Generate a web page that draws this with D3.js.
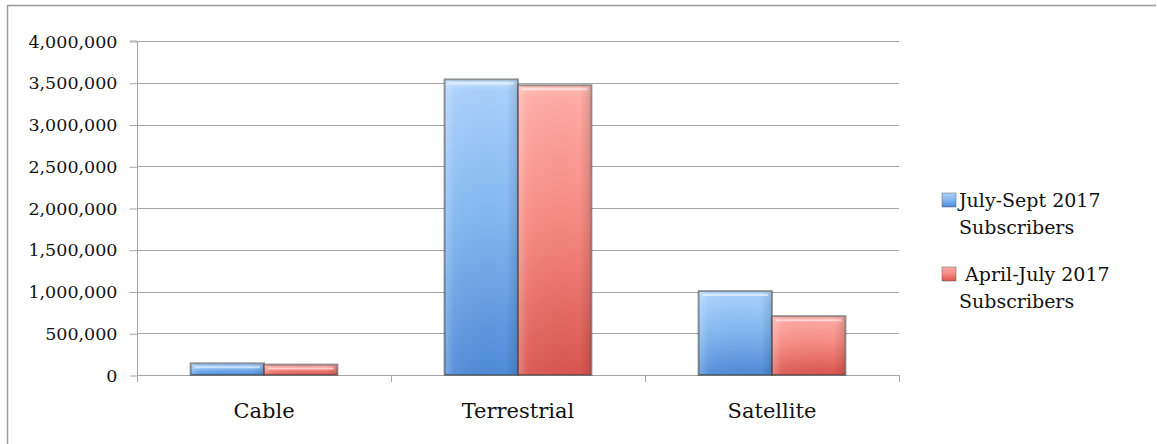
<!DOCTYPE html>
<html>
<head>
<meta charset="utf-8">
<script src="https://cdn.jsdelivr.net/npm/d3@7"></script>
<style>
  html, body { margin: 0; padding: 0; background: #fff; }
  svg { display: block; }
  text { font-family: "DejaVu Serif", serif; fill: #111; }
</style>
</head>
<body>
<svg id="chart" width="1157" height="444"></svg>
<script>
// Subscribers by platform, two survey periods
const categories = ["Cable", "Terrestrial", "Satellite"];
const seriesNames = ["July-Sept 2017 Subscribers", "April-July 2017 Subscribers"];
const julySept = [140000, 3540000, 1005000];
const aprilJuly = [125000, 3470000, 705000];
const yTicks = [0, 500000, 1000000, 1500000, 2000000, 2500000, 3000000, 3500000, 4000000];

const svg = d3.select("#chart");
const W = 1157, H = 444;
const plot = { left: 137, right: 899, top: 41, bottom: 375 };

// outer frame (top and left edges)
svg.append("path")
  .attr("d", `M7.5,${H} L7.5,5.5 L1156,5.5`)
  .attr("fill", "none").attr("stroke", "#9a9a9a").attr("stroke-width", 1.5);

const x = d3.scaleBand().domain(categories).range([plot.left, plot.right]).paddingInner(0).paddingOuter(0);
const xInner = d3.scaleBand().domain([0, 1]).range([0, x.bandwidth()]).paddingOuter(0.73).paddingInner(0);
const y = d3.scaleLinear().domain([0, 4000000]).range([plot.bottom, plot.top]);

const defs = svg.append("defs");
function grad(id, stops) {
  const g = defs.append("linearGradient").attr("id", id).attr("x1", 0).attr("y1", 0).attr("x2", 0).attr("y2", 1);
  stops.forEach(s => g.append("stop").attr("offset", s[0]).attr("stop-color", s[1]));
}
grad("gBlue", [[0, "#c4e2ff"], [0.04, "#a9d0fb"], [0.5, "#7fb5f0"], [1, "#4f8ad8"]]);
grad("gRed", [[0, "#ffc4bd"], [0.04, "#ffaba4"], [0.5, "#f5877f"], [1, "#d9554f"]]);
const hGrad = defs.append("linearGradient").attr("id", "gSide").attr("x1", 0).attr("x2", 1).attr("y1", 0).attr("y2", 0);
[[0, "rgba(255,255,255,0.25)"], [0.12, "rgba(255,255,255,0.05)"], [0.85, "rgba(0,0,0,0)"], [1, "rgba(0,0,0,0.12)"]]
  .forEach(s => hGrad.append("stop").attr("offset", s[0]).attr("stop-color", s[1]));

// horizontal grid lines
svg.append("g").selectAll("line").data(yTicks).join("line")
  .attr("x1", plot.left).attr("x2", plot.right)
  .attr("y1", d => Math.round(y(d)) + 0.5).attr("y2", d => Math.round(y(d)) + 0.5)
  .attr("stroke", "#a6a6a6").attr("stroke-width", 1);

// y axis
const yAxis = d3.axisLeft(y).tickValues(yTicks).tickSize(8).tickPadding(12)
  .tickFormat(d3.format(","));
const gy = svg.append("g").attr("transform", `translate(${plot.left + 0.5},0.5)`).call(yAxis);
gy.select(".domain").attr("stroke", "#a6a6a6").attr("d", `M-8,${plot.top - 0.5}H0V${plot.bottom - 0.5}`);
gy.selectAll(".tick line").attr("stroke", "#a6a6a6");
gy.selectAll(".tick text").style("font-family", "DejaVu Serif").style("font-size", "17.5px").attr("fill", "#111");

// x axis: tick marks at band boundaries
const bounds = categories.map(c => x(c)).concat([x(categories[categories.length - 1]) + x.bandwidth()]);
const gx = svg.append("g");
gx.append("line").attr("x1", plot.left).attr("x2", plot.right)
  .attr("y1", plot.bottom + 0.5).attr("y2", plot.bottom + 0.5).attr("stroke", "#a6a6a6");
gx.selectAll("line.tk").data(bounds).join("line").attr("class", "tk")
  .attr("x1", d => Math.round(d) + 0.5).attr("x2", d => Math.round(d) + 0.5)
  .attr("y1", plot.bottom).attr("y2", plot.bottom + 7).attr("stroke", "#a6a6a6");
gx.selectAll("text").data(categories).join("text")
  .attr("x", d => x(d) + x.bandwidth() / 2).attr("y", 418)
  .attr("text-anchor", "middle").style("font-size", "21px").text(d => d);

// bars
const series = [
  { values: julySept, fill: "url(#gBlue)" },
  { values: aprilJuly, fill: "url(#gRed)" }
];
series.forEach((s, si) => {
  const g = svg.append("g");
  const rows = categories.map((c, i) => ({ c, v: s.values[i] }));
  const bx = d => x(d.c) + xInner(si);
  const bw = xInner.bandwidth();
  g.selectAll("rect.bar").data(rows).join("rect").attr("class", "bar")
    .attr("x", bx).attr("y", d => y(d.v))
    .attr("width", bw).attr("height", d => y(0) - y(d.v))
    .attr("fill", s.fill)
    .attr("stroke", "rgba(70,70,70,0.55)").attr("stroke-width", 2);
  g.selectAll("rect.side").data(rows).join("rect").attr("class", "side")
    .attr("x", d => bx(d) + 1).attr("y", d => y(d.v) + 1)
    .attr("width", bw - 2).attr("height", d => Math.max(0, y(0) - y(d.v) - 2))
    .attr("fill", "url(#gSide)");
  g.selectAll("line.hl").data(rows).join("line").attr("class", "hl")
    .attr("x1", d => bx(d) + 4).attr("x2", d => bx(d) + bw - 4)
    .attr("y1", d => y(d.v) + 4).attr("y2", d => y(d.v) + 4)
    .attr("stroke", "rgba(255,255,255,0.55)").attr("stroke-width", 2);
});

// legend
const legend = [
  { fill: "url(#gBlue)", lines: ["July-Sept 2017", "Subscribers"], y: 193 },
  { fill: "url(#gRed)", lines: ["\u00a0April-July 2017", "Subscribers"], y: 267 }
];
const lg = svg.append("g");
legend.forEach(l => {
  lg.append("rect").attr("x", 942).attr("y", l.y).attr("width", 14).attr("height", 14)
    .attr("fill", l.fill).attr("stroke", "rgba(90,90,90,0.5)").attr("stroke-width", 1);
  l.lines.forEach((t, i) => {
    lg.append("text").attr("x", 959).attr("y", l.y + 14 + i * 27)
      .style("font-size", "19px").text(t);
  });
});
</script>
</body>
</html>
